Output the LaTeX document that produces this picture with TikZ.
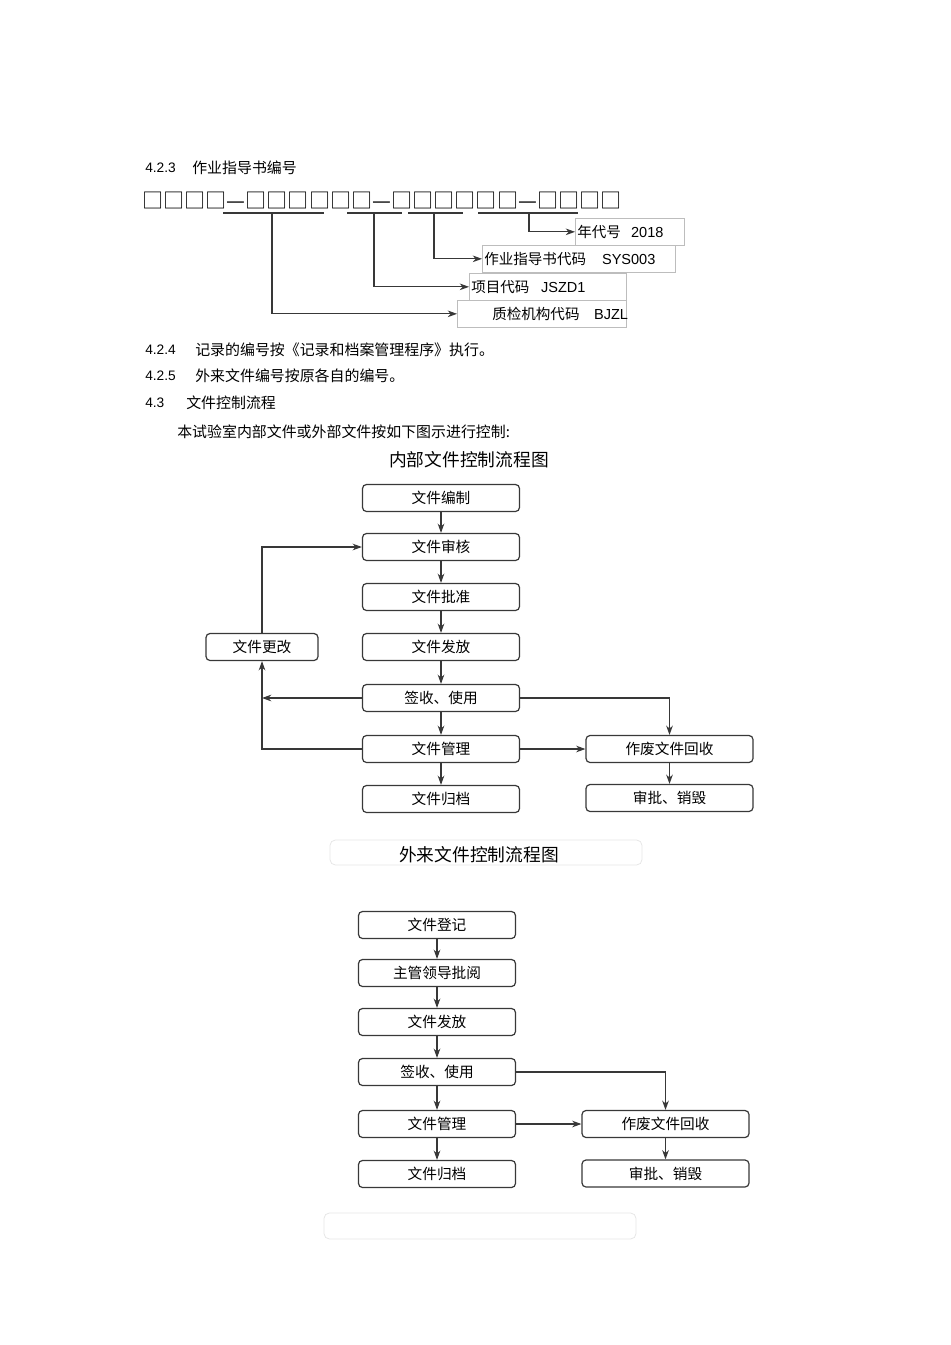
\documentclass[tikz,border=0pt]{standalone}
\usepackage{fontspec}
\setmainfont{Liberation Sans}
\newfontfamily\cjk{Noto Sans CJK SC}
\usetikzlibrary{arrows.meta}
\tikzset{>={Stealth[width=5pt,length=7pt]}}
\definecolor{boxgray}{HTML}{383838}
\definecolor{framegray}{HTML}{BDBDBD}
\definecolor{faintgray}{HTML}{E6E6E6}
\tikzset{
  numtxt/.style={anchor=west, inner sep=0pt, font=\fontsize{10.3pt}{12pt}\selectfont},
  cjktxt/.style={anchor=west, inner sep=0pt, font=\cjk\fontsize{11.2pt}{13pt}\selectfont},
  titletxt/.style={inner sep=0pt, font=\cjk\fontsize{13.3pt}{15pt}\selectfont},
  procbox/.style={draw=boxgray, line width=0.9pt, rounded corners=3pt, fill=white,
    minimum width=117.75pt, minimum height=20.25pt, inner sep=0pt,
    font=\cjk\fontsize{11pt}{12pt}\selectfont},
  labelbox/.style={draw=framegray, line width=0.5pt, fill=white, anchor=north west,
    minimum height=20.25pt, inner xsep=1.5pt, inner ysep=0pt, align=left,
    font=\fontsize{10.9pt}{13pt}\selectfont},
  flow/.style={->, draw=boxgray, line width=0.8pt},
  codeline/.style={draw=boxgray, line width=0.8pt},
}

\begin{document}
\begin{tikzpicture}[x=0.75pt,y=-0.75pt]
\useasboundingbox (0,0) rectangle (950,1345);

% 4.2.3 numbering scheme
\node[numtxt] (n423) at (145,168) {4.2.3};
\node[cjktxt] (t423) at (192,168) {作业指导书编号};
\node[anchor=west, inner sep=0pt, font=\cjk\fontsize{15.85pt}{16pt}\selectfont] (code)
  at (142,200) {□□□□—□□□□□□—□□□□□□—□□□□};

\draw[codeline] (223,213) -- (324,213);
\draw[codeline] (347,213) -- (402,213);
\draw[codeline] (408,213) -- (463,213);
\draw[codeline] (478,213) -- (578,213);
\coordinate (u1) at (272,213);
\coordinate (u2) at (374,213);
\coordinate (u3) at (434,213);
\coordinate (u4) at (529,213);

\node[labelbox, text width=78.75pt] (year) at (575,218) {{\cjk 年代号}\hspace{0.7em}2018};
\node[labelbox, text width=141.75pt] (book) at (482,245) {{\cjk 作业指导书代码}\hspace{1.1em}SYS003};
\node[labelbox, text width=114.75pt] (proj) at (469,273) {{\cjk 项目代码}\hspace{0.8em}JSZD1};
\node[labelbox, text width=123.75pt] (org) at (457,300) {\hspace*{24.75pt}\rlap{{\cjk 质检机构代码}\hspace{1em}BJZL}};

\draw[flow] (u4) |- (year.west);
\draw[flow] (u3) |- (book.west);
\draw[flow] (u2) |- (proj.west);
\draw[flow] (u1) |- (org.west);

\node[numtxt] (n424) at (145,350) {4.2.4};
\node[cjktxt] (t424) at (195,350) {记录的编号按《记录和档案管理程序》执行。};
\node[numtxt] (n425) at (145,376) {4.2.5};
\node[cjktxt] (t425) at (195,376) {外来文件编号按原各自的编号。};
\node[numtxt] (n43) at (145,403) {4.3};
\node[cjktxt] (t43) at (186,403) {文件控制流程};
\node[cjktxt] (intro) at (177,432) {本试验室内部文件或外部文件按如下图示进行控制:};

% internal documents
\node[titletxt] (title1) at (469,460) {内部文件控制流程图};
\node[procbox] (bz) at (441,498) {文件编制};
\node[procbox] (sh) at (441,547) {文件审核};
\node[procbox] (pz) at (441,597) {文件批准};
\node[procbox] (ff) at (441,647) {文件发放};
\node[procbox] (qs) at (441,698) {签收、使用};
\node[procbox] (gl) at (441,749) {文件管理};
\node[procbox] (gd) at (441,799) {文件归档};
\node[procbox, minimum width=84pt] (gg) at (262,647) {文件更改};
\node[procbox, minimum width=125.25pt] (zf) at (669.5,749) {作废文件回收};
\node[procbox, minimum width=125.25pt] (sp) at (669.5,798) {审批、销毁};

\draw[flow] (bz) -- (sh);
\draw[flow] (sh) -- (pz);
\draw[flow] (pz) -- (ff);
\draw[flow] (ff) -- (qs);
\draw[flow] (qs) -- (gl);
\draw[flow] (gl) -- (gd);
\draw[flow] (gg.north) |- (sh.west);
\draw[flow] (qs.west) -- (qs.west -| gg.north);
\draw[flow] (gl.west) -| (gg.south);
\draw[flow] (qs.east) -| (zf.north);
\draw[flow] (gl) -- (zf);
\draw[flow] (zf) -- (sp);

% external documents
\draw[faintgray, line width=0.6pt, rounded corners=4pt] (330,840) rectangle (642,865);
\node[titletxt] (title2) at (479,855) {外来文件控制流程图};
\node[procbox] (dj) at (437,925) {文件登记};
\node[procbox] (py) at (437,973) {主管领导批阅};
\node[procbox] (ff2) at (437,1022) {文件发放};
\node[procbox] (qs2) at (437,1072) {签收、使用};
\node[procbox] (gl2) at (437,1124) {文件管理};
\node[procbox] (gd2) at (437,1174) {文件归档};
\node[procbox, minimum width=125.25pt] (zf2) at (665.5,1124) {作废文件回收};
\node[procbox, minimum width=125.25pt] (sp2) at (665.5,1173.5) {审批、销毁};

\draw[flow] (dj) -- (py);
\draw[flow] (py) -- (ff2);
\draw[flow] (ff2) -- (qs2);
\draw[flow] (qs2) -- (gl2);
\draw[flow] (gl2) -- (gd2);
\draw[flow] (qs2.east) -| (zf2.north);
\draw[flow] (gl2) -- (zf2);
\draw[flow] (zf2) -- (sp2);

\draw[faintgray, line width=0.6pt, rounded corners=4pt] (324,1213) rectangle (636,1239);
\end{tikzpicture}
\end{document}
